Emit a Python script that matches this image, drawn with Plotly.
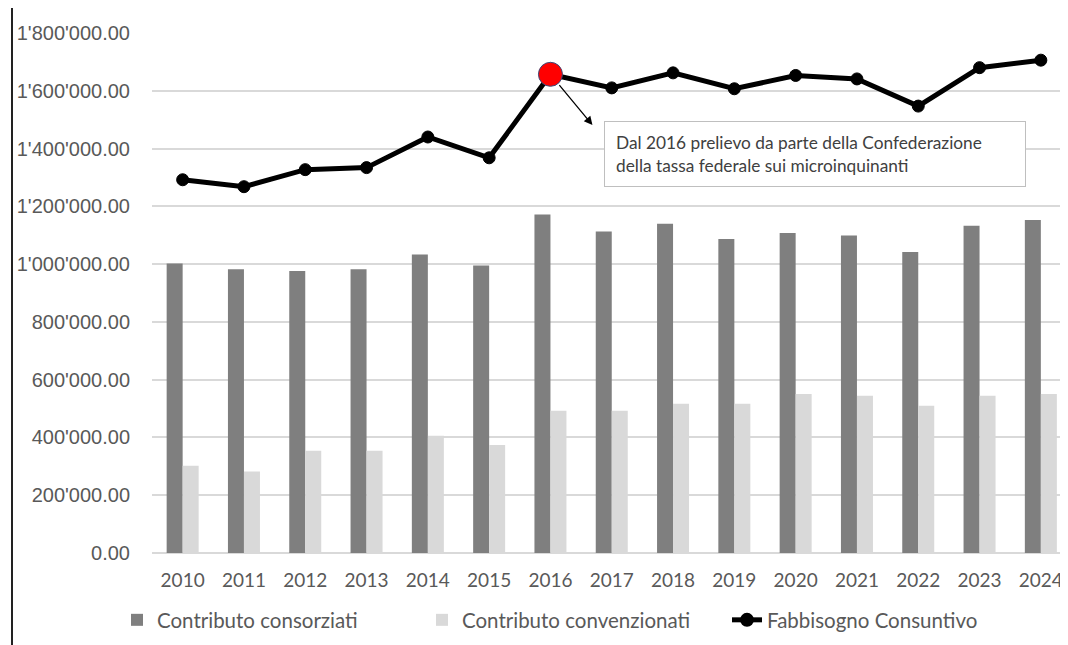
import plotly.graph_objects as go

years = ["2010", "2011", "2012", "2013", "2014", "2015", "2016", "2017",
         "2018", "2019", "2020", "2021", "2022", "2023", "2024"]
consorziati = [1002000, 982000, 976000, 982000, 1033000, 995000, 1172000, 1113000,
               1140000, 1087000, 1108000, 1099000, 1042000, 1133000, 1153000]
convenzionati = [302000, 282000, 354000, 354000, 406000, 374000, 492000, 492000,
                 517000, 517000, 550000, 544000, 510000, 544000, 550000]
fabbisogno = [1292000, 1268000, 1327000, 1334000, 1440000, 1368000, 1657000, 1610000,
              1662000, 1607000, 1653000, 1641000, 1547000, 1680000, 1706000]
highlight_year = "2016"
y_ticks = [0, 200000, 400000, 600000, 800000, 1000000, 1200000, 1400000, 1600000, 1800000]
y_tick_labels = ["0.00", "200'000.00", "400'000.00", "600'000.00", "800'000.00",
                 "1'000'000.00", "1'200'000.00", "1'400'000.00", "1'600'000.00", "1'800'000.00"]
note_text = "Dal 2016 prelievo da parte della Confederazione<br>della tassa federale sui microinquinanti"

# geometry: page body has an 8px margin, so screen coords are shifted by OFF
OFF = 8
W, H = 1068 - OFF, 645 - OFF
PL, PT = 152 - OFF, 33 - OFF
PW, PH = W - PL, 520
PB = PT + PH
CAT = 61.3
Y_MAX = 1800000

def px(sx):
    return (sx - OFF - PL) / PW

def py(sy):
    return (PB - (sy - OFF)) / PH

marker_colors = ["#ff0000" if y == highlight_year else "#000000" for y in years]
marker_sizes = [24 if y == highlight_year else 12 for y in years]
marker_line_colors = ["#3b4a7a" if y == highlight_year else "#000000" for y in years]

fig = go.Figure()
fig.add_trace(go.Bar(x=years, y=consorziati, name="Contributo consorziati",
                     marker=dict(color="#7f7f7f", line=dict(width=0))))
fig.add_trace(go.Bar(x=years, y=convenzionati, name="Contributo convenzionati",
                     marker=dict(color="#d9d9d9", line=dict(width=0))))
fig.add_trace(go.Scatter(x=years, y=fabbisogno, name="Fabbisogno Consuntivo",
                         mode="lines+markers",
                         line=dict(color="#000000", width=5),
                         marker=dict(color=marker_colors, size=marker_sizes, opacity=1,
                                     line=dict(color=marker_line_colors, width=1))))

hi = years.index(highlight_year)
head_x = hi + 42 / CAT
head_y = py(125) * Y_MAX
fig.add_annotation(x=head_x, y=head_y, xref="x", yref="y",
                   ax=hi, ay=fabbisogno[hi], axref="x", ayref="y",
                   showarrow=True, arrowhead=2, arrowsize=1.3, arrowwidth=1.3,
                   arrowcolor="#000000", standoff=0, startstandoff=12, text="")
fig.add_annotation(x=px(604), y=py(121), xref="paper", yref="paper",
                   xanchor="left", yanchor="top", align="left", valign="middle",
                   text=note_text, showarrow=False,
                   font=dict(family="Lato", size=17.3, color="#404040"),
                   bordercolor="#bfbfbf", borderwidth=1, borderpad=11,
                   bgcolor="#ffffff", width=398, height=42)

fig.add_shape(type="line", xref="paper", yref="paper",
              x0=px(12), x1=px(12), y0=py(660), y1=py(-10),
              line=dict(color="#222222", width=2))

fig.update_layout(
    width=W, height=H,
    margin=dict(l=PL, r=0, t=PT, b=H - PB, autoexpand=False),
    paper_bgcolor="#ffffff", plot_bgcolor="#ffffff",
    barmode="group", bargap=0.478, bargroupgap=0,
    showlegend=True,
    legend=dict(orientation="h", x=px(117), xanchor="left",
                y=py(620), yanchor="middle",
                font=dict(family="Lato", size=20.5, color="#595959"),
                entrywidth=260, entrywidthmode="pixels",
                traceorder="normal", itemsizing="constant"),
    xaxis=dict(type="category", range=[-0.5, -0.5 + PW / CAT], automargin=False,
               tickfont=dict(family="Lato", size=19, color="#595959"),
               ticklabelstandoff=14,
               showgrid=False, showline=False, ticks=""),
    yaxis=dict(range=[0, Y_MAX], tickvals=y_ticks, ticktext=y_tick_labels, automargin=False,
               tickfont=dict(family="Liberation Sans", size=20, color="#595959"),
               showgrid=True, gridcolor="#d9d9d9", gridwidth=1.5,
               zeroline=True, zerolinecolor="#d9d9d9", zerolinewidth=1.5,
               ticklabelstandoff=21, showline=False, ticks=""),
)

fig.write_html("out.html")
